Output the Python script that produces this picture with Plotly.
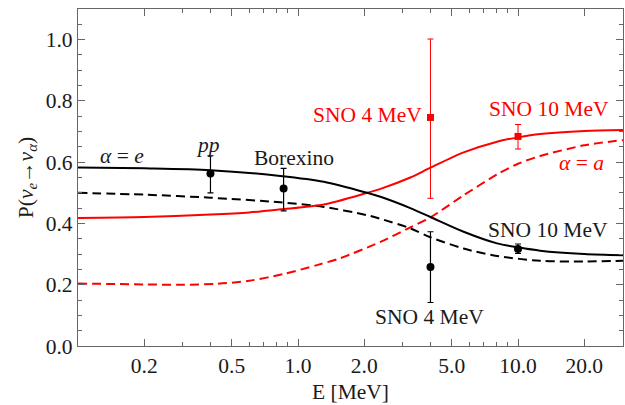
import numpy as np
import plotly.graph_objects as go

# Curves
e_black_solid = [0.1, 0.2, 0.4, 0.83, 1.31, 2.06, 2.37, 3.24, 4.0, 5.66, 8.03, 10.0, 12.6, 20.0, 30.0]
p_black_solid = [0.583, 0.580, 0.574, 0.555, 0.536, 0.500, 0.487, 0.450, 0.421, 0.373, 0.335, 0.322, 0.311, 0.300, 0.296]

e_black_dash = [0.1, 0.2, 0.4, 0.83, 1.31, 2.06, 2.37, 3.24, 4.0, 5.66, 8.03, 12.6, 20.0, 30.0]
p_black_dash = [0.500, 0.494, 0.484, 0.469, 0.454, 0.427, 0.415, 0.384, 0.355, 0.318, 0.294, 0.278, 0.276, 0.278]

e_red_solid = [0.1, 0.2, 0.4, 0.6, 0.83, 1.31, 2.06, 2.37, 3.24, 4.0, 5.66, 8.03, 10.0, 12.6, 20.0, 30.0]
p_red_solid = [0.418, 0.421, 0.429, 0.436, 0.446, 0.462, 0.500, 0.513, 0.550, 0.582, 0.632, 0.667, 0.681, 0.692, 0.702, 0.705]

e_red_dash = [0.1, 0.2, 0.3, 0.43, 0.6, 0.86, 1.22, 1.56, 2.37, 3.24, 4.0, 5.66, 8.03, 10.0, 12.6, 20.0, 30.0]
p_red_dash = [0.204, 0.201, 0.200, 0.203, 0.213, 0.235, 0.264, 0.287, 0.340, 0.387, 0.420, 0.492, 0.560, 0.595, 0.620, 0.655, 0.672]

# Data points
e_black_pts = [0.4, 0.86, 4.0, 10.0]
p_black_pts = [0.563, 0.514, 0.258, 0.317]
err_black_up = [0.058, 0.066, 0.115, 0.016]
err_black_dn = [0.063, 0.073, 0.116, 0.015]

e_red_pts = [4.0, 10.0]
p_red_pts = [0.746, 0.684]
err_red_up = [0.256, 0.039]
err_red_dn = [0.264, 0.041]

x_major = [0.2, 0.5, 1.0, 2.0, 5.0, 10.0, 20.0]
x_major_text = ["0.2", "0.5", "1.0", "2.0", "5.0", "10.0", "20.0"]
x_minor = [0.3, 0.4, 0.6, 0.7, 0.8, 0.9, 3, 4, 6, 7, 8, 9, 30]
y_major = [0.0, 0.2, 0.4, 0.6, 0.8, 1.0]
y_major_text = ["0.0", "0.2", "0.4", "0.6", "0.8", "1.0"]

RED = "#ff0000"
FONT = "Liberation Serif"
FS = 21.5
TXT = "#1a1a1a"
FRAME = "#666666"

fig = go.Figure()
fig.add_trace(go.Scatter(x=e_red_dash, y=p_red_dash, mode="lines",
                         line=dict(color=RED, width=2, dash="9px,5px", shape="spline", smoothing=0.8)))
fig.add_trace(go.Scatter(x=e_black_dash, y=p_black_dash, mode="lines",
                         line=dict(color="black", width=2, dash="9px,5px", shape="spline", smoothing=0.8)))
fig.add_trace(go.Scatter(x=e_red_solid, y=p_red_solid, mode="lines",
                         line=dict(color=RED, width=2, shape="spline", smoothing=0.8)))
fig.add_trace(go.Scatter(x=e_black_solid, y=p_black_solid, mode="lines",
                         line=dict(color="black", width=2, shape="spline", smoothing=0.8)))
fig.add_trace(go.Scatter(x=e_red_pts, y=p_red_pts, mode="markers",
                         marker=dict(color=RED, size=7, symbol="square"),
                         error_y=dict(type="data", array=err_red_up, arrayminus=err_red_dn,
                                      color=RED, thickness=1, width=3)))
fig.add_trace(go.Scatter(x=e_black_pts, y=p_black_pts, mode="markers",
                         marker=dict(color="black", size=8, symbol="circle"),
                         error_y=dict(type="data", array=err_black_up, arrayminus=err_black_dn,
                                      color="black", thickness=1.2, width=3)))

ann = [
    ("<i>α</i> = <i>e</i>", 0.159, 0.62, "black"),
    ("<i>pp</i>", 0.39, 0.655, "black"),
    ("Borexino", 0.96, 0.613, "black"),
    ("SNO 4 MeV", 2.06, 0.754, RED),
    ("SNO 10 MeV", 13.8, 0.773, RED),
    ("<i>α</i> = <i>a</i>", 19.5, 0.598, RED),
    ("SNO 10 MeV", 13.7, 0.378, "black"),
    ("SNO 4 MeV", 3.94, 0.095, "black"),
]
for t, x, y, c in ann:
    fig.add_annotation(x=np.log10(x), y=y, xref="x", yref="y", text=t, showarrow=False,
                       font=dict(family=FONT, size=FS, color=c if c != "black" else TXT),
                       xanchor="center", yanchor="middle")

axis_common = dict(showline=True, linecolor=FRAME, linewidth=1.3, mirror="allticks",
                   ticks="inside", tickcolor=FRAME, showgrid=False, zeroline=False,
                   automargin=False, tickfont=dict(family=FONT, size=FS, color=TXT))
fig.update_xaxes(type="log", range=[-1, np.log10(30)], tickmode="array", tickvals=x_major,
                 ticktext=x_major_text, ticklen=7,
                 minor=dict(tickmode="array", tickvals=x_minor, ticks="inside", ticklen=4,
                            tickcolor=FRAME, showgrid=False),
                 title=dict(text="E [MeV]", font=dict(family=FONT, size=FS, color=TXT), standoff=6),
                 **axis_common)
fig.update_yaxes(range=[0, 1.1], tickmode="array", tickvals=y_major, ticktext=y_major_text, ticklen=7,
                 minor=dict(dtick=0.05, ticks="inside", ticklen=4, tickcolor=FRAME, showgrid=False),
                 title=dict(text="P(<i>ν</i><sub><i>e</i></sub>→<i>ν</i><sub><i>α</i></sub>)",
                            font=dict(family=FONT, size=FS, color=TXT), standoff=6),
                 **axis_common)
fig.update_layout(width=625, height=405, margin=dict(l=78, r=2, t=9, b=59),
                  plot_bgcolor="white", paper_bgcolor="white", showlegend=False)
fig.write_html("out.html", config={"responsive": False, "displayModeBar": False},
               post_script="document.body.style.margin='0';document.body.style.overflow='hidden';")
